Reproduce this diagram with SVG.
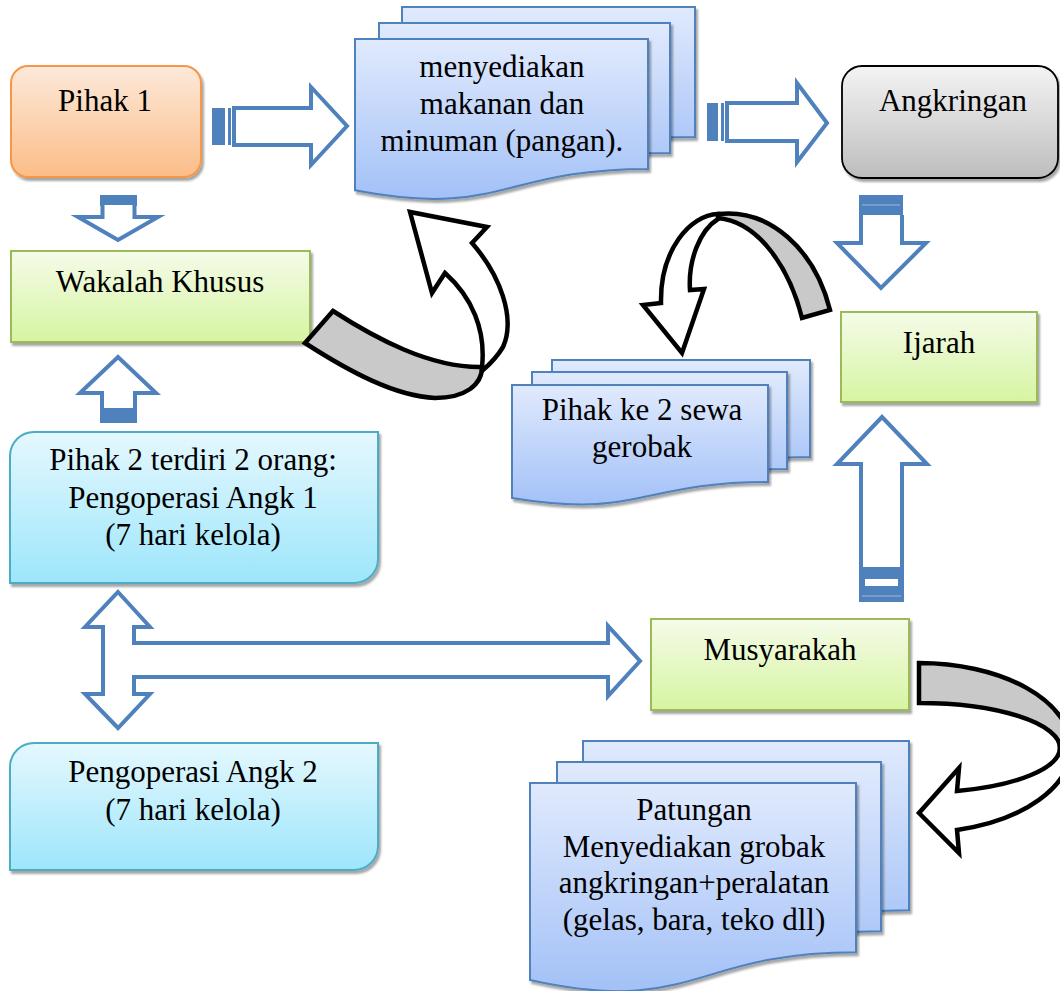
<svg xmlns="http://www.w3.org/2000/svg" width="1060" height="991" viewBox="0 0 1060 991">
<defs>
  <linearGradient id="gOrange" x1="0" y1="0" x2="0" y2="1"><stop offset="0" stop-color="#fde9da"/><stop offset="1" stop-color="#fbbd88"/></linearGradient>
  <linearGradient id="gGray" x1="0" y1="0" x2="0" y2="1"><stop offset="0" stop-color="#f4f4f4"/><stop offset="1" stop-color="#bdbdbd"/></linearGradient>
  <linearGradient id="gGreen" x1="0" y1="0" x2="0" y2="1"><stop offset="0" stop-color="#f5fbe9"/><stop offset="1" stop-color="#d6f5a1"/></linearGradient>
  <linearGradient id="gBlue" x1="0" y1="0" x2="0" y2="1"><stop offset="0" stop-color="#e0eafd"/><stop offset="1" stop-color="#a3c1f7"/></linearGradient>
  <linearGradient id="gCyan" x1="0" y1="0" x2="0" y2="1"><stop offset="0" stop-color="#e5f8fe"/><stop offset="1" stop-color="#9de6fb"/></linearGradient>
  <filter id="sh" x="-10%" y="-10%" width="120%" height="130%">
    <feDropShadow dx="2" dy="3" stdDeviation="0.8" flood-color="#000" flood-opacity="0.35"/>
  </filter>
  <style>
    .t { font-family: 'Liberation Serif', 'Times New Roman', 'DejaVu Serif', serif; font-size: 31px; fill: #000; text-anchor: middle; }
    .orange { fill: url(#gOrange); stroke: #f79646; stroke-width: 2; filter: url(#sh); }
    .gray { fill: url(#gGray); stroke: #000; stroke-width: 1.8; filter: url(#sh); }
    .green { fill: url(#gGreen); stroke: #9bbb59; stroke-width: 2; filter: url(#sh); }
    .doc { fill: url(#gBlue); stroke: #4f81bd; stroke-width: 2; filter: url(#sh); }
    .cyan { fill: url(#gCyan); stroke: #4bacc6; stroke-width: 2; filter: url(#sh); }
    .barrow { fill: #fff; stroke: #4f81bd; stroke-width: 4; stroke-linejoin: miter; }
    .bfill { fill: #4f81bd; }
    .curve { stroke: #000; stroke-width: 4.5; stroke-linejoin: miter; }
  </style>
</defs>

<g id="pihak1">
  <rect class="orange" x="11" y="66" width="190" height="111" rx="17"/>
  <text class="t" x="105" y="111">Pihak 1</text>
</g>

<g id="menyediakan">
  <path class="doc" d="M402,7 H695 V136.9 C548.5,136.9 548.5,186.4 402,158.3 Z"/>
  <path class="doc" d="M379,23 H670 V152.9 C524.5,152.9 524.5,202.4 379,174.3 Z"/>
  <path class="doc" d="M355,39 H648 V168.9 C501.5,168.9 501.5,218.4 355,190.3 Z"/>
  <text class="t" x="502" y="77">menyediakan</text>
  <text class="t" x="502" y="114">makanan dan</text>
  <text class="t" x="502" y="151">minuman (pangan).</text>
</g>

<g id="angkringan">
  <rect class="gray" x="842" y="66" width="216" height="112" rx="20"/>
  <text class="t" x="953" y="111">Angkringan</text>
</g>

<g id="wakalah">
  <rect class="green" x="11" y="251" width="299" height="91"/>
  <text class="t" x="160" y="292">Wakalah Khusus</text>
</g>

<g id="ijarah">
  <rect class="green" x="841" y="312" width="196" height="90"/>
  <text class="t" x="939" y="353">Ijarah</text>
</g>

<g id="pihak2">
  <path class="cyan" d="M10,456 A24,24 0 0 1 34,432 H378 V559 A24,24 0 0 1 354,583 H10 Z"/>
  <text class="t" x="193" y="470">Pihak 2 terdiri 2 orang:</text>
  <text class="t" x="193" y="508">Pengoperasi Angk 1</text>
  <text class="t" x="193" y="545">(7 hari kelola)</text>
</g>

<g id="sewa">
  <path class="doc" d="M552,360 H810 V457 C681,457 681,494 552,473 Z"/>
  <path class="doc" d="M532,372 H787 V469 C659.5,469 659.5,506 532,485 Z"/>
  <path class="doc" d="M512,385 H768 V482 C640,482 640,519 512,498 Z"/>
  <text class="t" x="642" y="420">Pihak ke 2 sewa</text>
  <text class="t" x="642" y="457">gerobak</text>
</g>

<g id="musyarakah">
  <rect class="green" x="651" y="619" width="258" height="91"/>
  <text class="t" x="780" y="660">Musyarakah</text>
</g>

<g id="pengoperasi2">
  <path class="cyan" d="M10,767 A24,24 0 0 1 34,743 H378 V846 A24,24 0 0 1 354,870 H10 Z"/>
  <text class="t" x="193" y="782">Pengoperasi Angk 2</text>
  <text class="t" x="193" y="820">(7 hari kelola)</text>
</g>

<g id="patungan">
  <path class="doc" d="M583,741 H909 V910.2 C746,910.2 746,974.7 583,938.1 Z"/>
  <path class="doc" d="M557,762 H881 V931.2 C719,931.2 719,995.7 557,959.1 Z"/>
  <path class="doc" d="M530,783 H856 V952.2 C693,952.2 693,1016.7 530,980.1 Z"/>
  <text class="t" x="694" y="820">Patungan</text>
  <text class="t" x="694" y="857">Menyediakan grobak</text>
  <text class="t" x="694" y="893">angkringan+peralatan</text>
  <text class="t" x="694" y="930">(gelas, bara, teko dll)</text>
</g>

<g id="connectors">
  <rect class="bfill" x="212" y="108" width="13" height="37"/>
  <rect class="bfill" x="228" y="108" width="3" height="37"/>
  <path class="barrow" d="M234,108 H311 V87 L347,126 L311,165 V145 H234 Z"/>

  <rect class="bfill" x="707" y="103" width="11" height="38"/>
  <rect class="bfill" x="721" y="103" width="3" height="38"/>
  <path class="barrow" d="M727,103 H797 V83 L827,123 L797,162 V141 H727 Z"/>

  <rect class="bfill" x="859" y="195" width="44" height="20"/>
  <line x1="862" y1="205" x2="900" y2="205" stroke="#9db8dc" stroke-width="1"/>
  <path class="barrow" d="M861,215 V243 H837 L881,288 L926,243 H902 V215"/>

  <path class="barrow" d="M861,568 V464 H837 L882,417 L927,464 H902 V568"/>
  <rect class="bfill" x="859" y="567" width="45" height="35"/>
  <rect fill="#fff" x="865" y="579" width="33" height="7"/>
  <line x1="862" y1="596" x2="901" y2="596" stroke="#9db8dc" stroke-width="1"/>

  <rect class="bfill" x="100" y="195" width="37" height="11"/>
  <path class="barrow" d="M102.5,205 V217 H78 L118,240 L158,217 H134.5 V205"/>

  <path class="barrow" d="M102,409 V393 H80 L118,357 L156,393 H135 V409"/>
  <rect class="bfill" x="100" y="408" width="37" height="15"/>

  <path class="barrow" stroke-linejoin="round" d="M118,592 L150,627 H134 V643 H608 V626 L640,661 L608,696 V677 H134 V694 H150 L118,728 L85,694 H103 V627 H85 Z"/>

  <path class="curve" fill="#fff" d="M482,367 C486,330 472,297 445,273 L432,293 L410,212 L487,227 L472,243 C500,275 516,318 503,347 C497,357 490,364 483,370 Z"/>
  <path class="curve" fill="#c9c9c9" d="M333,311 C375,338 430,368 482,367 C482,385 465,398 435,398 C395,396 350,372 305,343 Z"/>

  <path class="curve" fill="#c9c9c9" d="M718,214 C770,208 815,250 830,310 L802,318 C790,270 760,222 718,218 Z"/>
  <path class="curve" fill="#fff" d="M718,214 C690,215 660,250 661,303 L643,305 L682,353 L704,289 L690,290 C688,260 700,230 718,219 Z"/>

  <path class="curve" fill="#c9c9c9" d="M919,663 A152,85 0 0 1 1071,748 L1060,748 A141,45 0 0 0 919,703 Z"/>
  <path class="curve" fill="#fff" d="M1071,748 A152,85 0 0 1 957,830 L959,853 L919,813 L959,768 L957,791 A141,45 0 0 0 1060,748 Z"/>
</g>
</svg>
